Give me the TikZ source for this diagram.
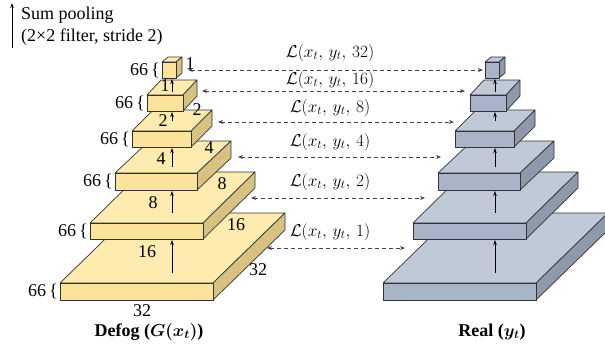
\documentclass[tikz,border=0pt]{standalone}
\usepackage{fontspec}
\setmainfont{Liberation Serif}
\usetikzlibrary{arrows.meta}
\definecolor{ytop}{HTML}{FDEBB0}
\definecolor{yfront}{HTML}{FCE39C}
\definecolor{yside}{HTML}{D8C282}
\definecolor{btop}{HTML}{C0C9D7}
\definecolor{bfront}{HTML}{A9B4C8}
\definecolor{bside}{HTML}{8E99AB}
\definecolor{edge}{HTML}{333333}
\definecolor{dashcol}{HTML}{444444}
\tikzset{
  face/.style={draw=edge, line width=0.7pt, line join=round},
  uparrow/.style={-{Stealth[length=5pt,width=3.5pt]}, line width=0.8pt, black},
  lossarrow/.style={{Stealth[length=5pt,width=4pt]}-{Stealth[length=5pt,width=4pt]}, dashed, dash pattern=on 4pt off 3pt, line width=0.8pt, dashcol},
  txt/.style={font=\fontsize{18}{20}\selectfont, inner sep=0pt},
  losstxt/.style={font=\fontsize{18}{20}\selectfont, inner sep=0pt},
  ttl/.style={font=\fontsize{18}{20}\selectfont\bfseries\boldmath, inner sep=0pt}
}
% #1 x, #2 top y, #3 width, #4 thickness, #5 depth dx, #6 depth dy (up), #7 palette
\newcommand\myslab[7]{%
  \filldraw[face, fill=#7top] (#1,#2) -- ({#1+#5},{#2-#6}) -- ({#1+#3+#5},{#2-#6}) -- ({#1+#3},#2) -- cycle;
  \filldraw[face, fill=#7side] ({#1+#3},#2) -- ({#1+#3+#5},{#2-#6}) -- ({#1+#3+#5},{#2-#6+#4}) -- ({#1+#3},{#2+#4}) -- cycle;
  \filldraw[face, fill=#7front] (#1,#2) rectangle ({#1+#3},{#2+#4});
}
\begin{document}
\begin{tikzpicture}[x=1pt, y=-1pt]
\useasboundingbox (0,0) rectangle (605,349);

% legend
\coordinate (legA) at (12,48);
\coordinate (legB) at (12,3);
\draw[uparrow] (legA) -- (legB);
\node[txt, anchor=west] (leg1) at (21,15) {Sum pooling};
\node[txt, anchor=west] (leg2) at (21,37) {(2×2 filter, stride 2)};

% pyramids
\foreach \sx/\pal in {0/y, 323/b}{
  \begin{scope}[xshift=\sx pt]
  \myslab{60}{283}{153}{17}{72}{70}{\pal}
  \myslab{90}{223}{113}{16}{52}{51}{\pal}
  \myslab{115}{173}{82}{17}{34}{32}{\pal}
  \myslab{132}{131}{59}{16}{21}{21}{\pal}
  \myslab{147}{95}{36}{16}{14}{15}{\pal}
  \myslab{162}{62}{14}{16}{6}{5}{\pal}
  \foreach \ya/\yb [count=\i] in {273/240, 213/191, 167/148, 121/112, 92/79}{
    \coordinate (ua\i) at (172,\ya);
    \coordinate (ub\i) at (172,\yb);
    \draw[uparrow] (ua\i) -- (ub\i);
  }
  \end{scope}
}

% 66 labels
\foreach \x/\y [count=\i] in {60/291.5, 90/231, 115/181.5, 132/139, 147/103, 162/70}{
  \node[txt, anchor=east] (h\i) at ({\x-2},\y) {66\,\{};
}

% size labels (left pyramid)
\node[txt] (s32b) at (142,311) {32};
\node[txt] (s32s) at (258,270) {32};
\node[txt] (s16a) at (147,252) {16};
\node[txt] (s16b) at (236,225) {16};
\node[txt] (s8a) at (153,203) {8};
\node[txt] (s8b) at (222,184) {8};
\node[txt] (s4a) at (161,159) {4};
\node[txt] (s4b) at (209,148) {4};
\node[txt] (s2a) at (163,121) {2};
\node[txt] (s2b) at (197,110) {2};
\node[txt] (s1a) at (165,86) {1};
\node[txt] (s1b) at (190,64) {1};

% loss arrows
\foreach \yl/\xl/\xr/\ylab/\k in {70/188/483/53/32, 91/202/465/80/16, 122/218/454/108/8, 157/238/441/142/4, 198/251/425/182/2, 248/267/405/232/1}{
  \coordinate (L\k) at (\xl,\yl);
  \coordinate (R\k) at (\xr,\yl);
  \draw[lossarrow] (L\k) -- (R\k);
  \node[losstxt] (lab\k) at (330,\ylab) {$\mathcal{L}(x_t,\, y_t,\, \k)$};
}

% titles
\node[ttl] (tdef) at (149,332) {Defog ($G(x_t)$)};
\node[ttl] (treal) at (492,332) {Real ($y_t$)};
\end{tikzpicture}
\end{document}
